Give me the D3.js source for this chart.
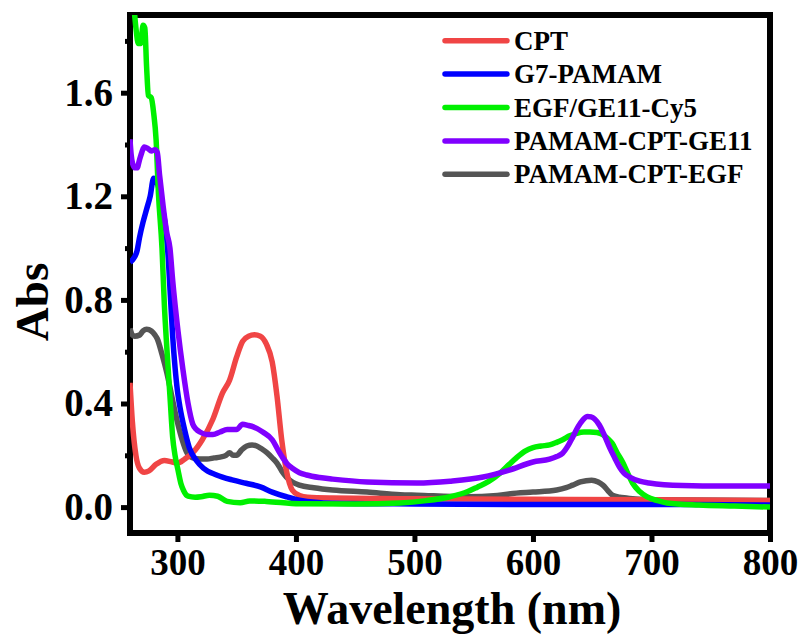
<!DOCTYPE html>
<html>
<head>
<meta charset="utf-8">
<script src="https://cdn.jsdelivr.net/npm/d3@7"></script>
<style>
  html, body { margin: 0; padding: 0; background: #fff; }
  svg { display: block; }
  text { font-family: "Liberation Serif", "Times New Roman", serif; font-weight: bold; fill: #000; }
</style>
</head>
<body>
<svg id="chart" width="808" height="637"></svg>
<script>
// ---------------- DATA ----------------
const seriesNames = ["CPT", "G7-PAMAM", "EGF/GE11-Cy5", "PAMAM-CPT-GE11", "PAMAM-CPT-EGF"];
const seriesColors = ["#f04545", "#0000ff", "#00f000", "#8000ff", "#555555"];

const xTicks = [300, 400, 500, 600, 700, 800];
const yTicks = [0.0, 0.4, 0.8, 1.2, 1.6];
const yMinorTicks = [0.2, 0.6, 1.0, 1.4, 1.8];

const cptWl  = [260, 262, 265, 268, 272, 276, 282, 289, 295, 300, 306, 313, 321, 330, 338, 344, 350, 355, 360, 365, 370, 375, 380, 384, 388, 392, 397, 403, 410, 430, 500, 600, 700, 800];
const cptAbs = [0.48, 0.33, 0.20, 0.15, 0.135, 0.14, 0.165, 0.18, 0.175, 0.17, 0.185, 0.21, 0.26, 0.34, 0.44, 0.49, 0.58, 0.64, 0.66, 0.665, 0.66, 0.63, 0.56, 0.43, 0.26, 0.14, 0.065, 0.045, 0.038, 0.035, 0.032, 0.03, 0.028, 0.025];

const g7Wl  = [260, 263, 266, 268, 271, 274, 277, 280, 282, 285, 288, 290, 292, 294, 296, 298, 300, 302, 306, 310, 316, 322, 333, 347, 358, 370, 380, 392, 403, 431, 500, 600, 700, 800];
const g7Abs = [0.945, 0.96, 0.99, 1.04, 1.10, 1.15, 1.20, 1.27, 1.26, 1.22, 1.14, 1.08, 0.98, 0.82, 0.66, 0.54, 0.45, 0.39, 0.30, 0.23, 0.18, 0.15, 0.124, 0.104, 0.092, 0.078, 0.058, 0.04, 0.027, 0.015, 0.012, 0.01, 0.01, 0.008];

const egfWl  = [263, 265, 267, 269, 271, 272.5, 274, 275.5, 278, 280, 282, 284, 287, 289, 291, 293.7, 296, 298, 300.5, 303, 305, 309, 315, 320, 327, 334, 342, 353, 361, 375, 403, 450, 488, 510, 530, 545, 553, 563, 572, 580, 586, 593, 600, 607, 614, 620, 625, 631, 637, 643, 648, 654, 659, 663, 667, 671, 676, 680, 684, 690, 696, 705, 713, 740, 770, 800];
const egfAbs = [1.95, 1.85, 1.79, 1.79, 1.86, 1.85, 1.70, 1.59, 1.58, 1.52, 1.42, 1.21, 1.0, 0.78, 0.62, 0.43, 0.27, 0.20, 0.143, 0.09, 0.066, 0.042, 0.038, 0.04, 0.046, 0.042, 0.022, 0.017, 0.024, 0.022, 0.013, 0.012, 0.016, 0.025, 0.04, 0.06, 0.077, 0.10, 0.13, 0.165, 0.19, 0.215, 0.23, 0.236, 0.24, 0.25, 0.26, 0.275, 0.285, 0.29, 0.29, 0.288, 0.28, 0.265, 0.245, 0.21, 0.17, 0.13, 0.093, 0.06, 0.04, 0.025, 0.016, 0.008, 0.004, 0.0];

const ge11Wl  = [260, 261, 262, 264, 266, 268, 270, 272, 275, 278, 281, 283, 285, 288, 291, 293.7, 296, 300.5, 304.7, 309, 313, 316, 319, 325, 330, 336, 342, 350, 355, 360, 364, 372, 380, 385, 389, 393, 397, 403, 409, 420, 431, 460, 502, 530, 558, 580, 600, 614, 620, 625, 630, 633.5, 638, 642, 646, 649, 652, 656, 660, 664.7, 669, 673, 677, 681.6, 690, 698, 726, 760, 800];
const ge11Abs = [1.42, 1.36, 1.33, 1.31, 1.31, 1.34, 1.37, 1.39, 1.385, 1.375, 1.38, 1.37, 1.28, 1.16, 1.06, 1.0, 0.876, 0.68, 0.53, 0.40, 0.32, 0.30, 0.29, 0.28, 0.28, 0.29, 0.30, 0.30, 0.32, 0.315, 0.31, 0.29, 0.26, 0.22, 0.19, 0.165, 0.15, 0.133, 0.124, 0.114, 0.108, 0.097, 0.093, 0.10, 0.116, 0.143, 0.174, 0.185, 0.195, 0.208, 0.24, 0.27, 0.31, 0.336, 0.35, 0.348, 0.34, 0.317, 0.28, 0.23, 0.19, 0.155, 0.13, 0.116, 0.10, 0.093, 0.083, 0.081, 0.081];

const egfCWl  = [260, 262, 264, 268, 271, 274, 278, 281, 283, 287, 291, 295.4, 299.6, 304, 308, 313, 319, 325, 331, 336, 341, 344, 347, 350, 354, 358.6, 363, 367, 371, 375.5, 380, 384, 388, 392, 397, 403, 415, 431, 460, 488, 502, 544, 570, 586, 600, 620, 628, 633.5, 640, 649.5, 655, 659, 663, 667, 673, 679, 690, 700, 800];
const egfCAbs = [0.69, 0.665, 0.66, 0.664, 0.68, 0.687, 0.68, 0.665, 0.65, 0.59, 0.52, 0.425, 0.336, 0.26, 0.21, 0.19, 0.186, 0.186, 0.19, 0.193, 0.20, 0.21, 0.20, 0.20, 0.22, 0.236, 0.24, 0.236, 0.225, 0.21, 0.19, 0.17, 0.14, 0.116, 0.097, 0.085, 0.075, 0.066, 0.058, 0.048, 0.046, 0.04, 0.045, 0.054, 0.058, 0.066, 0.075, 0.085, 0.097, 0.104, 0.097, 0.085, 0.065, 0.046, 0.038, 0.035, 0.03, 0.028, 0.025];

// ---------------- LAYOUT ----------------
const svg = d3.select("#chart");
const plot = { left: 130, right: 770, top: 15, bottom: 533 };
const x = d3.scaleLinear().domain([260, 800]).range([plot.left, plot.right]);
const y = d3.scaleLinear().domain([-0.1, 1.9]).range([plot.bottom, plot.top]);

svg.append("defs").append("clipPath").attr("id", "clip")
  .append("rect").attr("x", plot.left).attr("y", plot.top)
  .attr("width", plot.right - plot.left).attr("height", plot.bottom - plot.top);

const series = [
  { wl: cptWl, v: cptAbs },
  { wl: g7Wl, v: g7Abs },
  { wl: egfWl, v: egfAbs },
  { wl: ge11Wl, v: ge11Abs },
  { wl: egfCWl, v: egfCAbs }
].map((s, i) => ({ name: seriesNames[i], color: seriesColors[i], pts: s.wl.map((w, j) => [w, s.v[j]]) }));

// axes
const xAxis = d3.axisBottom(x).tickValues(xTicks).tickSize(9).tickPadding(7).tickFormat(d3.format("d"));
const gx = svg.append("g").attr("transform", `translate(0,${plot.bottom})`).call(xAxis);
gx.select(".domain").remove();
gx.selectAll(".tick line").attr("stroke", "#000").attr("stroke-width", 5);
gx.selectAll(".tick text").attr("font-size", 37).attr("font-family", null).attr("fill", "#000");

const yAxis = d3.axisLeft(y).tickValues(yTicks).tickSize(9).tickPadding(8).tickFormat(d3.format(".1f"));
const gy = svg.append("g").attr("transform", `translate(${plot.left},0)`).call(yAxis);
gy.select(".domain").remove();
gy.selectAll(".tick line").attr("stroke", "#000").attr("stroke-width", 5);
gy.selectAll(".tick text").attr("font-size", 39).attr("font-family", null).attr("fill", "#000");

const yMinor = d3.axisLeft(y).tickValues(yMinorTicks).tickSize(5).tickFormat("");
const gym = svg.append("g").attr("transform", `translate(${plot.left},0)`).call(yMinor);
gym.select(".domain").remove();
gym.selectAll(".tick line").attr("stroke", "#000").attr("stroke-width", 5);

// frame
svg.append("rect").attr("x", plot.left).attr("y", plot.top)
  .attr("width", plot.right - plot.left).attr("height", plot.bottom - plot.top)
  .attr("fill", "none").attr("stroke", "#000").attr("stroke-width", 6);

// curves (drawn over the frame, as in the reference)
const line = d3.line().x(d => x(d[0])).y(d => y(d[1])).curve(d3.curveMonotoneX);
const drawOrder = [4, 0, 1, 2, 3];
const g = svg.append("g").attr("clip-path", "url(#clip)");
drawOrder.forEach(i => {
  g.append("path").datum(series[i].pts)
    .attr("d", line).attr("fill", "none")
    .attr("stroke", series[i].color).attr("stroke-width", 5.5)
    .attr("stroke-linejoin", "round").attr("stroke-linecap", "butt");
});

// axis titles
svg.append("text").attr("x", 452).attr("y", 624).attr("text-anchor", "middle")
  .attr("font-size", 46).text("Wavelength (nm)");
svg.append("text").attr("transform", "translate(48,302) rotate(-90)").attr("text-anchor", "middle")
  .attr("font-size", 47).text("Abs");

// legend
const lg = svg.append("g");
series.forEach((s, i) => {
  const yy = 40.7 + i * 33.4;
  lg.append("line").attr("x1", 445).attr("x2", 507).attr("y1", yy).attr("y2", yy)
    .attr("stroke", s.color).attr("stroke-width", 5.5).attr("stroke-linecap", "round");
  lg.append("text").attr("x", 514).attr("y", yy + 9).attr("font-size", 27).text(s.name);
});
</script>
</body>
</html>
